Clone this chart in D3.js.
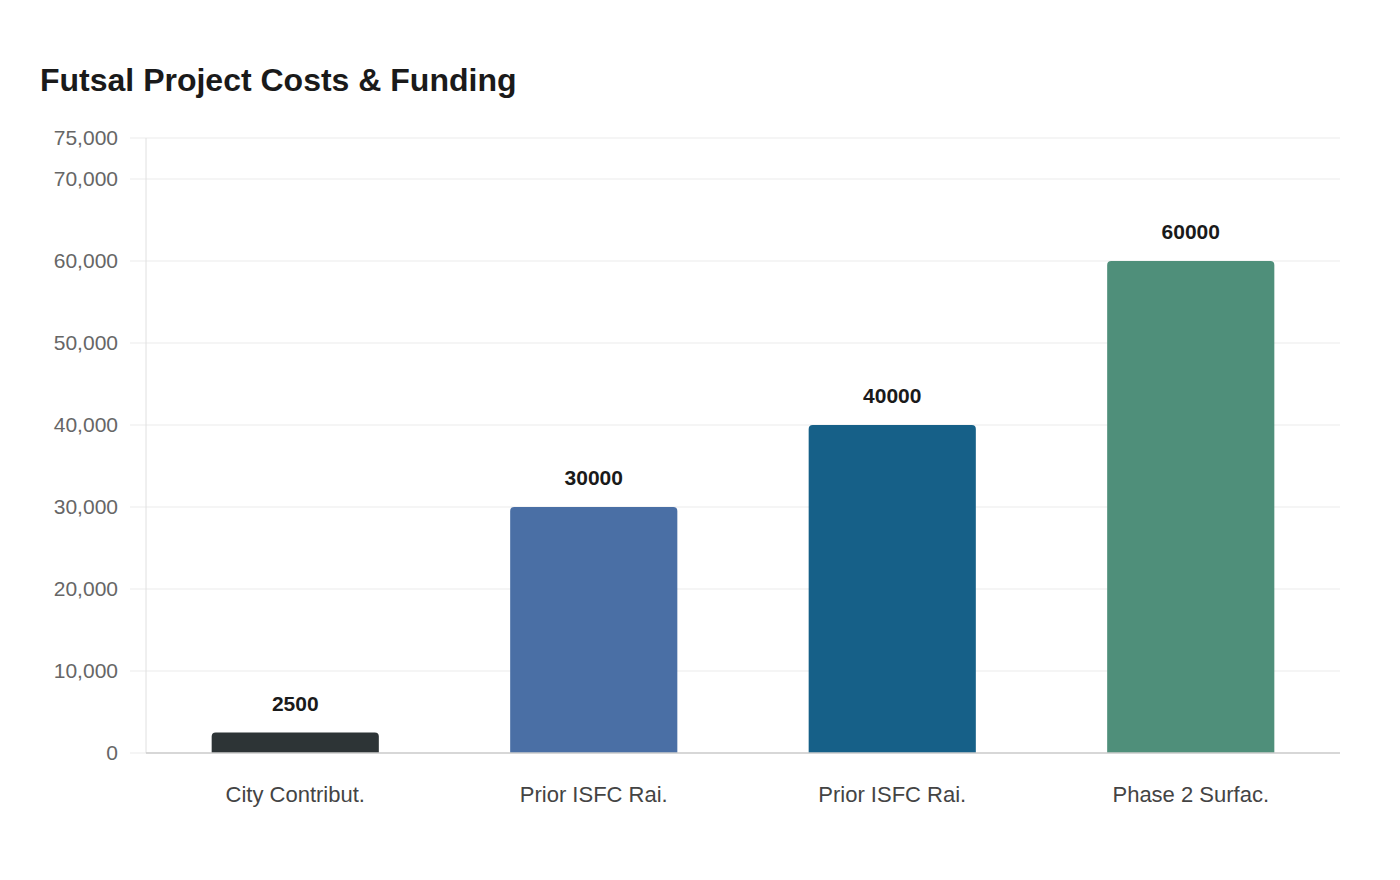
<!DOCTYPE html>
<html>
<head>
<meta charset="utf-8">
<script src="https://cdn.jsdelivr.net/npm/d3@7"></script>
<style>
  body { margin: 0; background: #fff; font-family: "Liberation Sans", Arial, sans-serif; }
</style>
</head>
<body>
<div id="chart"></div>
<script>
var categories = ["City Contribut.", "Prior ISFC Rai.", "Prior ISFC Rai.", "Phase 2 Surfac."];
var amounts = [2500, 30000, 40000, 60000];
var barColors = ["#2d3436", "#4a6fa5", "#166088", "#4f8f7a"];
var yTicks = [0, 10000, 20000, 30000, 40000, 50000, 60000, 70000, 75000];

var width = 1400, height = 880;
var margin = {top: 138, right: 60, bottom: 127, left: 146};

var svg = d3.select("#chart")
    .append("svg")
    .attr("width", width)
    .attr("height", height);

svg.append("text")
    .attr("x", 40)
    .attr("y", 91)
    .style("font-size", "32px")
    .style("font-weight", "bold")
    .style("fill", "#1a1a1a")
    .text("Futsal Project Costs & Funding");

var x = d3.scaleBand()
    .domain(d3.range(categories.length))
    .range([margin.left, width - margin.right])
    .paddingInner(0.44)
    .paddingOuter(0.22);

var y = d3.scaleLinear()
    .domain([0, 75000])
    .range([height - margin.bottom, margin.top]);

// grid lines + tick labels
var grid = svg.append("g");
grid.selectAll("line")
    .data(yTicks)
    .enter()
    .append("line")
    .attr("x1", 130)
    .attr("x2", width - margin.right)
    .attr("y1", function(d) { return y(d); })
    .attr("y2", function(d) { return y(d); })
    .style("stroke", "#ebebeb")
    .style("stroke-width", 1);

grid.selectAll("text")
    .data(yTicks)
    .enter()
    .append("text")
    .attr("x", 118)
    .attr("y", function(d) { return y(d); })
    .attr("dy", "0.35em")
    .attr("text-anchor", "end")
    .style("font-size", "21px")
    .style("fill", "#666")
    .text(function(d) { return d3.format(",")(d); });

// y axis line
svg.append("line")
    .attr("x1", margin.left).attr("x2", margin.left)
    .attr("y1", y(75000)).attr("y2", y(0))
    .style("stroke", "#e0e0e0");

function topRounded(x0, y0, w, h, r) {
  r = Math.min(r, h, w / 2);
  return "M" + x0 + "," + (y0 + h) +
    "V" + (y0 + r) +
    "Q" + x0 + "," + y0 + " " + (x0 + r) + "," + y0 +
    "H" + (x0 + w - r) +
    "Q" + (x0 + w) + "," + y0 + " " + (x0 + w) + "," + (y0 + r) +
    "V" + (y0 + h) + "Z";
}

svg.selectAll("path.bar")
    .data(amounts)
    .enter()
    .append("path")
    .attr("class", "bar")
    .attr("d", function(d, i) {
      return topRounded(x(i), y(d), x.bandwidth(), y(0) - y(d), 4);
    })
    .style("fill", function(d, i) { return barColors[i]; });

svg.selectAll("text.val")
    .data(amounts)
    .enter()
    .append("text")
    .attr("class", "val")
    .attr("x", function(d, i) { return x(i) + x.bandwidth() / 2; })
    .attr("y", function(d) { return y(d) - 22; })
    .attr("text-anchor", "middle")
    .style("font-size", "21px")
    .style("font-weight", "bold")
    .style("fill", "#1a1a1a")
    .text(function(d) { return d; });

// x axis line
svg.append("line")
    .attr("x1", margin.left).attr("x2", width - margin.right)
    .attr("y1", y(0)).attr("y2", y(0))
    .style("stroke", "#ccc")
    .style("stroke-width", 1.5);

svg.selectAll("text.cat")
    .data(categories)
    .enter()
    .append("text")
    .attr("class", "cat")
    .attr("x", function(d, i) { return x(i) + x.bandwidth() / 2; })
    .attr("y", y(0) + 49)
    .attr("text-anchor", "middle")
    .style("font-size", "22px")
    .style("fill", "#444")
    .text(function(d) { return d; });
</script>
</body>
</html>
